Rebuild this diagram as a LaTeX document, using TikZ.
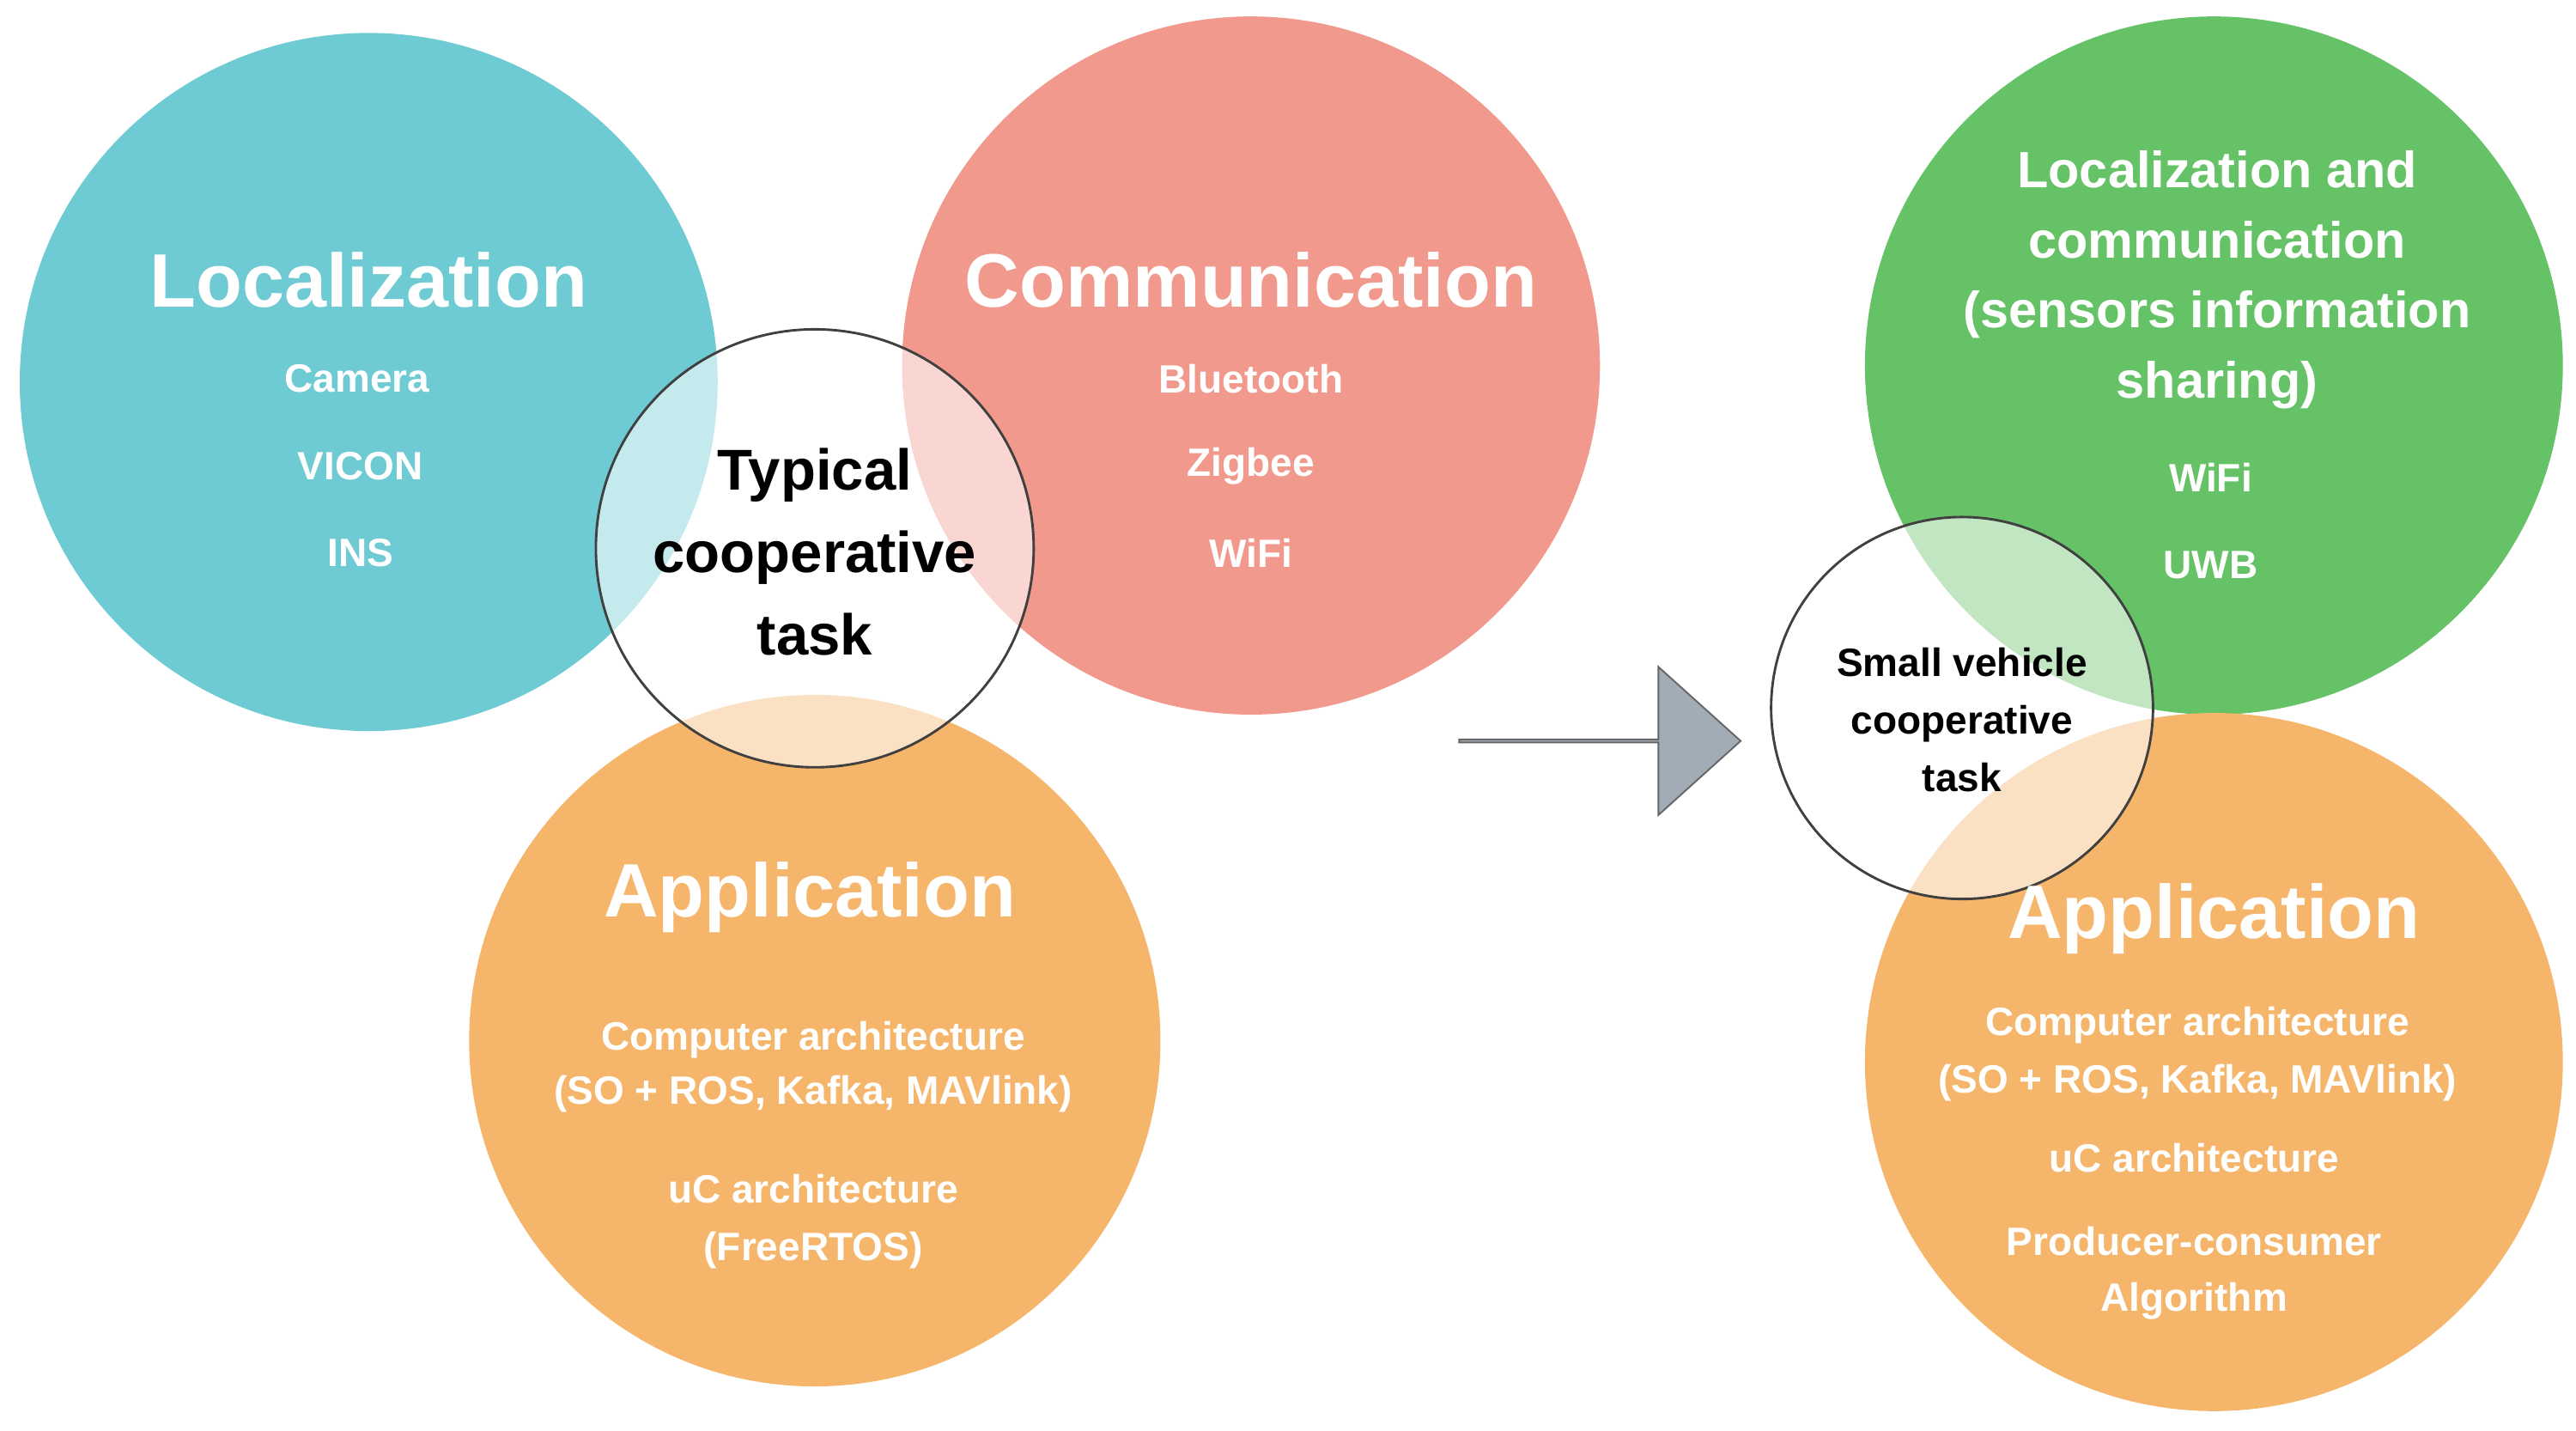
\documentclass[tikz,border=0pt]{standalone}
\usepackage{fontspec}
\setmainfont{Liberation Sans}
\usetikzlibrary{shapes.arrows}
\definecolor{teal}{HTML}{6FCBD3}
\definecolor{salmon}{HTML}{F0998C}
\definecolor{orng}{HTML}{F5B66B}
\definecolor{grn}{HTML}{66C266}
\definecolor{arr}{HTML}{A2ACB6}
\definecolor{edge}{HTML}{404040}
\begin{document}
\begin{tikzpicture}[x=1pt,y=-1pt,
 big/.style={circle,inner sep=0pt,minimum size=#1},
 hub/.style={circle,inner sep=0pt,minimum size=#1,fill=white,fill opacity=0.6,draw=edge,line width=1.5pt},
 t/.style={text=white,font=\bfseries\fontsize{24}{28}\selectfont,align=center},
 h/.style={text=white,font=\bfseries\fontsize{46}{50}\selectfont,align=center}]
\useasboundingbox (0,0) rectangle (1565,869);
\node[big=424pt,fill=teal] (loc) at (224,232) {};
\node[big=424pt,fill=salmon] (com) at (760,222) {};
\node[big=420pt,fill=orng] (app) at (495,632) {};
\node[hub=266pt] (typ) at (495,333) {};
\node[big=424pt,fill=grn] (lc) at (1345,222) {};
\node[big=424pt,fill=orng] (app2) at (1345,645) {};
\node[hub=232pt] (small) at (1192,430) {};
\node[single arrow,fill=arr,draw=edge!80,line width=1pt,minimum height=171pt,minimum width=90pt,single arrow head extend=25pt,single arrow tip angle=84,inner sep=0pt] (arrow) at (971.5,450) {};
% left texts
\node[h] (l1) at (224,170) {Localization};
\node[t] (l2) at (217,230) {Camera};
\node[t] (l3) at (219,283) {VICON};
\node[t] (l4) at (219,336) {INS};
\node[h] (c1) at (760,170) {Communication};
\node[t] (c2) at (760,230) {Bluetooth};
\node[t] (c3) at (760,283) {Zigbee};
\node[t] (c4) at (760,336) {WiFi};
\node[font=\bfseries\fontsize{35}{50}\selectfont,align=center] (tt) at (495,335) {Typical\\cooperative\\task};
\node[h] (a1) at (492,545) {Application};
\node[t,font=\bfseries\fontsize{24}{33}\selectfont] (a2) at (494,648) {Computer architecture\\(SO + ROS, Kafka, MAVlink)};
\node[t,font=\bfseries\fontsize{24}{35}\selectfont] (a3) at (494,742) {uC architecture\\(FreeRTOS)};
% right texts
\node[t,font=\bfseries\fontsize{31}{42.5}\selectfont] (g1) at (1347,170) {Localization and\\communication\\(sensors information\\sharing)};
\node[t] (g2) at (1343,290) {WiFi};
\node[t] (g3) at (1343,343) {UWB};
\node[font=\bfseries\fontsize{24}{35}\selectfont,align=center] (sv) at (1192,437) {Small vehicle\\cooperative\\task};
\node[h] (b1) at (1345,558) {Application};
\node[t,font=\bfseries\fontsize{24}{35}\selectfont] (b2) at (1335,640) {Computer architecture\\(SO + ROS, Kafka, MAVlink)};
\node[t] (b3) at (1333,703) {uC architecture};
\node[t,font=\bfseries\fontsize{24}{34}\selectfont] (b4) at (1333,773) {Producer-consumer\\Algorithm};
\end{tikzpicture}
\end{document}
